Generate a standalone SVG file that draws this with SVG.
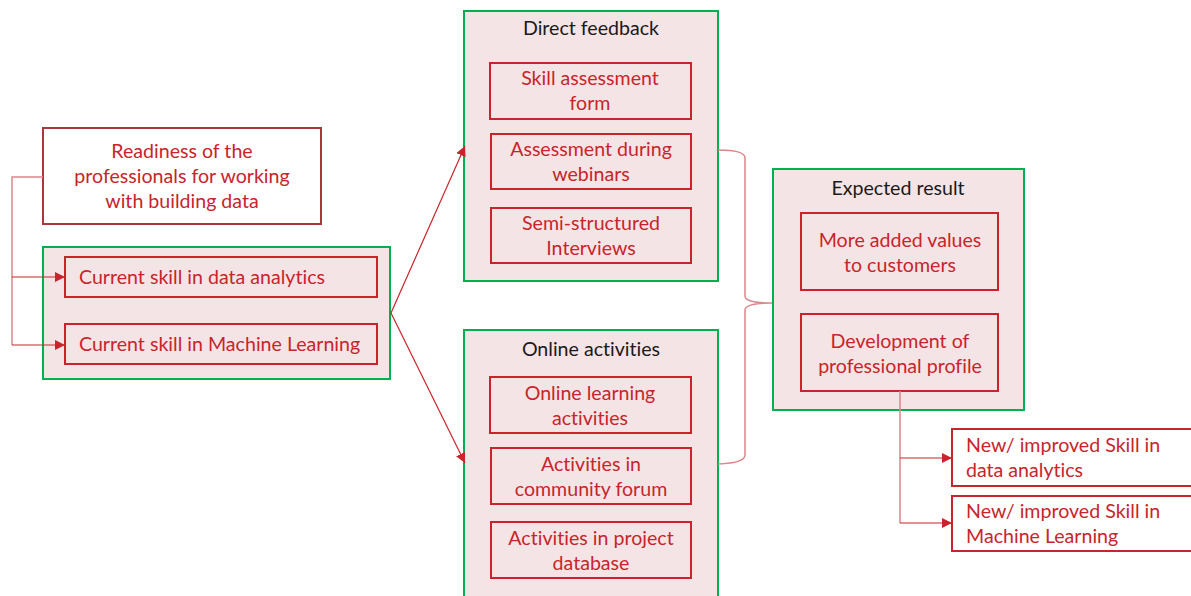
<svg xmlns="http://www.w3.org/2000/svg" width="1191" height="596" viewBox="0 0 1191 596">
<style>
text{font-variant-ligatures:none;font-feature-settings:"liga" 0,"dlig" 0}
.grp{fill:#f4e4e5;stroke:#00b050;stroke-width:2}
.box{fill:#f4e4e5;stroke:#c9242b;stroke-width:2}
.wbox{fill:#ffffff;stroke:#c9242b;stroke-width:2}
.t{font-family:Lato,"Open Sans",sans-serif;font-size:19.6px;fill:#c9242b;text-anchor:middle}
.tl{font-family:Lato,"Open Sans",sans-serif;font-size:19.6px;fill:#c9242b}
.h{font-family:Lato,"Open Sans",sans-serif;font-size:19.6px;fill:#1a1a1a;text-anchor:middle}
.c{fill:none;stroke:#c9242b;stroke-width:1.2}
.cl{fill:none;stroke:#d9878a;stroke-width:1.5}
</style>
<defs>
<marker id="ah" viewBox="0 0 10 10" refX="10" refY="5" markerWidth="10" markerHeight="10" markerUnits="userSpaceOnUse" orient="auto">
<path d="M0,0 L10,5 L0,10 z" fill="#c9242b"/>
</marker>
</defs>

<g id="readiness">
<rect class="wbox" x="43" y="128" width="278" height="96" style="stroke:#a8383c"/>
<text class="t" x="182" y="158">Readiness of the</text>
<text class="t" x="182" y="183">professionals for working</text>
<text class="t" x="182" y="208">with building data</text>
</g>

<g id="current">
<rect class="grp" x="43" y="247" width="347" height="132"/>
<rect class="box" x="65" y="257" width="312" height="40"/>
<text class="tl" x="79" y="284">Current skill in data analytics</text>
<rect class="box" x="65" y="324" width="312" height="40"/>
<text class="tl" x="79" y="351">Current skill in Machine Learning</text>
</g>

<g id="direct">
<rect class="grp" x="464" y="11" width="254" height="270"/>
<text class="h" x="591" y="35">Direct feedback</text>
<rect class="box" x="490" y="63" width="201" height="56"/>
<text class="t" x="590" y="85">Skill assessment</text>
<text class="t" x="590" y="110">form</text>
<rect class="box" x="491" y="134" width="200" height="55"/>
<text class="t" x="591" y="156">Assessment during</text>
<text class="t" x="591" y="181">webinars</text>
<rect class="box" x="491" y="208" width="200" height="55"/>
<text class="t" x="591" y="230">Semi-structured</text>
<text class="t" x="591" y="255">Interviews</text>
</g>

<g id="online">
<rect class="grp" x="464" y="330" width="254" height="270"/>
<text class="h" x="591" y="356">Online activities</text>
<rect class="box" x="490" y="377" width="201" height="56"/>
<text class="t" x="590" y="400">Online learning</text>
<text class="t" x="590" y="425">activities</text>
<rect class="box" x="491" y="448" width="200" height="56"/>
<text class="t" x="591" y="471">Activities in</text>
<text class="t" x="591" y="496">community forum</text>
<rect class="box" x="491" y="522" width="200" height="56"/>
<text class="t" x="591" y="545">Activities in project</text>
<text class="t" x="591" y="570">database</text>
</g>

<g id="expected">
<rect class="grp" x="773" y="169" width="251" height="241"/>
<text class="h" x="898" y="195">Expected result</text>
<rect class="box" x="801" y="213" width="197" height="77"/>
<text class="t" x="900" y="247">More added values</text>
<text class="t" x="900" y="272">to customers</text>
<rect class="box" x="801" y="314" width="197" height="77"/>
<text class="t" x="900" y="348">Development of</text>
<text class="t" x="900" y="373">professional profile</text>
</g>

<g id="new-da">
<rect class="wbox" x="952" y="429" width="245" height="57"/>
<text class="tl" x="966" y="452">New/ improved Skill in</text>
<text class="tl" x="966" y="477">data analytics</text>
</g>
<g id="new-ml">
<rect class="wbox" x="952" y="496" width="245" height="55"/>
<text class="tl" x="966" y="518">New/ improved Skill in</text>
<text class="tl" x="966" y="543">Machine Learning</text>
</g>

<g id="connectors">
<path class="cl" d="M43,177 H12 V345"/>
<path class="c" d="M12,277 H65" marker-end="url(#ah)"/>
<path class="c" d="M12,345 H65" marker-end="url(#ah)"/>
<path class="c" d="M391,313 L465,146" marker-end="url(#ah)"/>
<path class="c" d="M391,313 L465,463" marker-end="url(#ah)"/>
<path class="cl" d="M718,150 Q745,150 745,158 V296 Q745,303 772,303 Q745,303 745,310 V455 Q745,463 718,464"/>
<path class="cl" d="M900,391 V523"/>
<path class="c" d="M900,458 H952" marker-end="url(#ah)"/>
<path class="c" d="M900,523 H952" marker-end="url(#ah)"/>
</g>
</svg>
